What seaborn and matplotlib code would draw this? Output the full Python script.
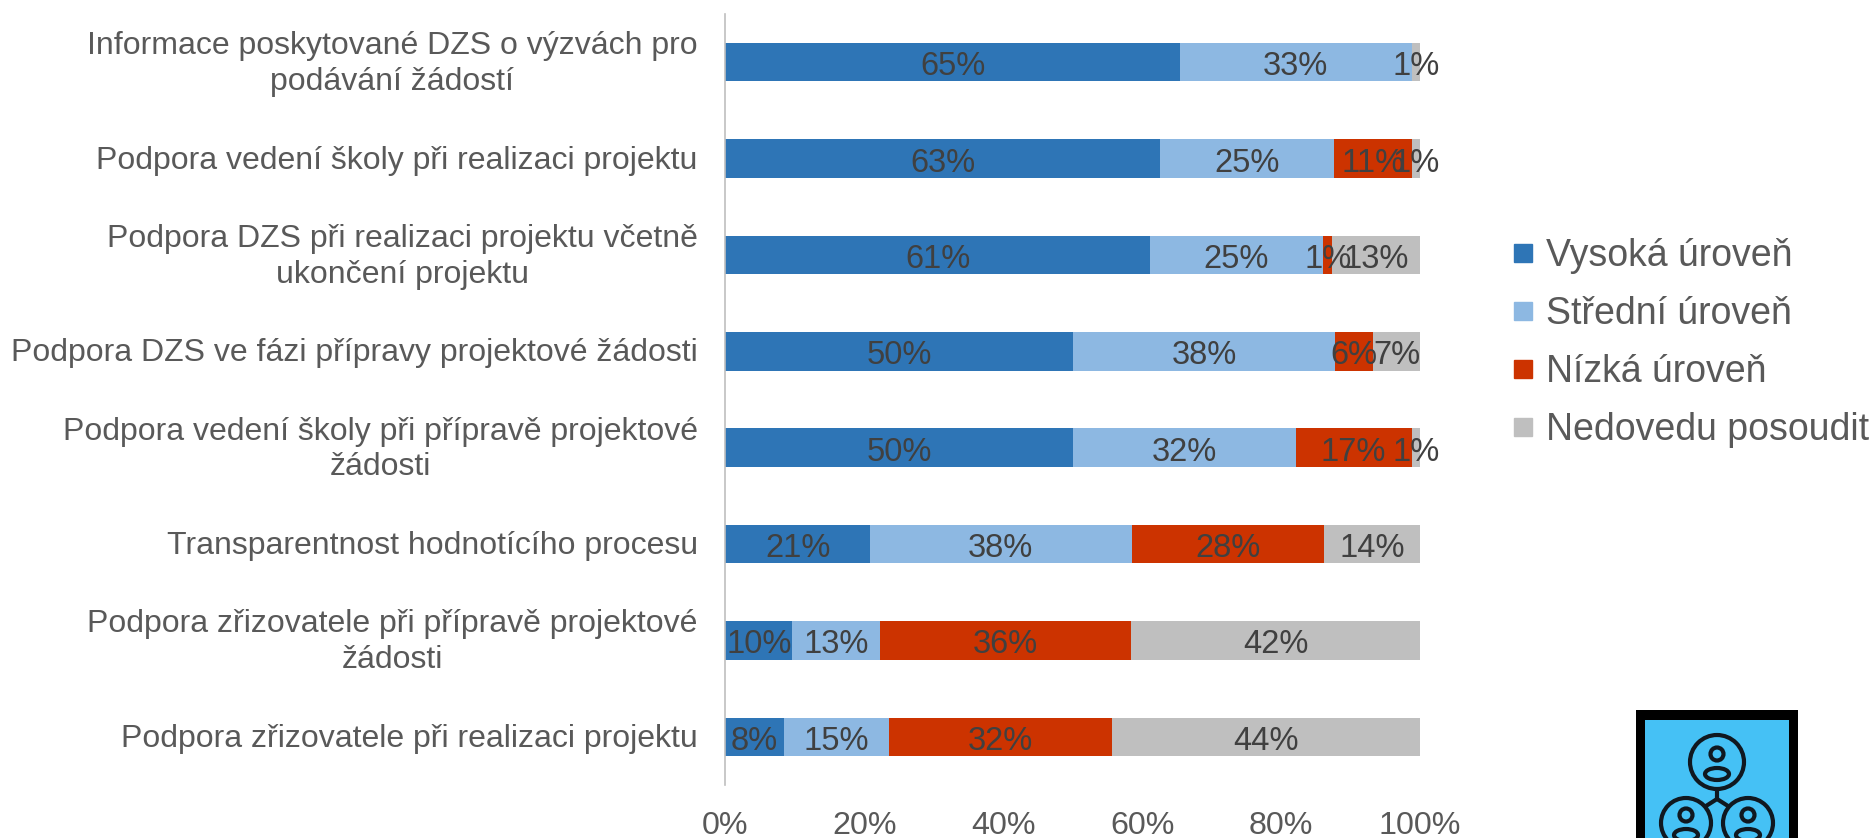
import numpy as np
import pandas as pd
import matplotlib.pyplot as plt
from matplotlib.patches import Circle, Ellipse, Rectangle
from matplotlib.lines import Line2D
from matplotlib.transforms import ScaledTranslation
import seaborn as sns

# ========== Data ==========
items = [
    "Informace poskytované DZS o výzvách pro\npodávání žádostí",
    "Podpora vedení školy při realizaci projektu",
    "Podpora DZS při realizaci projektu včetně\nukončení projektu",
    "Podpora DZS ve fázi přípravy projektové žádosti",
    "Podpora vedení školy při přípravě projektové\nžádosti",
    "Transparentnost hodnotícího procesu",
    "Podpora zřizovatele při přípravě projektové\nžádosti",
    "Podpora zřizovatele při realizaci projektu",
]
levels = ["Vysoká úroveň", "Střední úroveň", "Nízká úroveň", "Nedovedu posoudit"]
vysoka = [65.4, 62.6, 61.1, 50.1, 50.1, 20.8, 9.6, 8.4]
stredni = [33.4, 25.0, 24.9, 37.6, 32.0, 37.7, 12.6, 15.2]
nizka = [0, 11.2, 1.4, 5.6, 16.7, 27.7, 36.2, 32.0]
nedovedu = [1.2, 1.2, 12.6, 6.7, 1.2, 13.8, 41.6, 44.4]
colors = ["#2E75B6", "#8DB8E2", "#CC3300", "#BFBFBF"]
tick_labels = ["0%", "20%", "40%", "60%", "80%", "100%"]

sns.set_theme(style="white")
plt.rcParams["font.family"] = ["Liberation Sans", "DejaVu Sans"]

W, H = 1874, 838
fig = plt.figure(figsize=(W / 100, H / 100), dpi=100)
ax = fig.add_axes([725.5 / W, 1 - 785 / H, (1420 - 725.5) / W, (785 - 14) / H])

# ========== Stacked bars (longest first, each shorter total drawn on top) ==========
vals = np.array([vysoka, stredni, nizka, nedovedu])
cum = vals.cumsum(axis=0)
for i in range(3, -1, -1):
    df = pd.DataFrame({"item": items, "value": cum[i]})
    sns.barplot(data=df, x="value", y="item", color=colors[i], width=0.4,
                saturation=1, linewidth=0, ax=ax, zorder=2)

# labels
for i in range(4):
    for j in range(len(items)):
        if vals[i, j] > 0:
            ax.text(cum[i, j] - vals[i, j] / 2, j + 0.01, f"{vals[i, j]:.0f}%", ha="center",
                    va="center_baseline", fontsize=23.5, color="#404040", zorder=3)

ax.set_xlim(0, 100)
ax.set_ylim(7.5, -0.5)
ax.set_xticks(range(0, 101, 20))
ax.set_xticklabels(tick_labels)
ax.set_xlabel("")
ax.set_ylabel("")
ax.tick_params(axis="x", length=0, pad=18.5, labelsize=23.2, labelcolor="#595959")
ax.tick_params(axis="y", length=0, pad=20, labelsize=23, labelcolor="#595959")
for lab in ax.get_yticklabels():
    lab.set_multialignment("center")
    lab.set_linespacing(1.25)
    # two-line labels sit a little higher than the bar centre
    up = 3.2 if "\n" in lab.get_text() else 1
    lab.set_transform(lab.get_transform() + ScaledTranslation(0, up / 72, fig.dpi_scale_trans))
sns.despine(ax=ax, top=True, right=True, bottom=True)
ax.spines["left"].set_color("#BFBFBF")
ax.spines["left"].set_linewidth(1.2)

# ========== Legend ==========
handles = [Line2D([], [], marker="s", linestyle="", markersize=12.5, color=c) for c in colors]
fig.legend(handles, levels, loc="center left", bbox_to_anchor=(1511 / W, 1 - 343 / H),
           frameon=False, fontsize=27, labelcolor="#595959", labelspacing=0.58,
           handlelength=0.65, handletextpad=0.28, borderpad=0, borderaxespad=0)

# ========== Icon (bottom right, cut off by the page edge) ==========
icon = fig.add_axes([0, 0, 1, 1], facecolor="none")
icon.set_xlim(0, W)
icon.set_ylim(H, 0)
icon.axis("off")
icon.add_patch(Rectangle((1636, 710), 162, 140, fc="black", ec="none"))
icon.add_patch(Rectangle((1645, 720), 144, 130, fc="#45C1F5", ec="none"))
lw = 3
for cx, cy, r in [(1717, 762, 27), (1686, 823, 25), (1748, 823, 25)]:
    icon.add_patch(Circle((cx, cy), r, fc="none", ec="#101820", lw=lw))
    icon.add_patch(Circle((cx, cy - 8), 6.5, fc="none", ec="#101820", lw=lw))
    icon.add_patch(Ellipse((cx, cy + 12), 24, 12, fc="none", ec="#101820", lw=lw))
icon.plot([1717, 1717, 1706], [789, 799, 806], color="#101820", lw=lw)
icon.plot([1717, 1728], [799, 806], color="#101820", lw=lw)

fig.savefig("out.png", dpi=100)
